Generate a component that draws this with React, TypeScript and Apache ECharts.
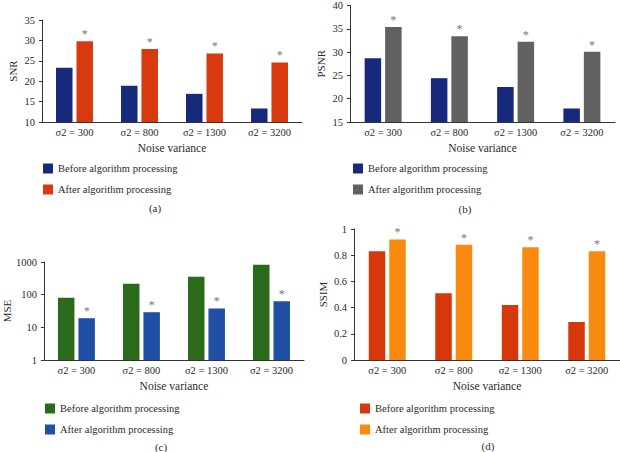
import React, { useEffect, useRef } from "react";
import * as echarts from "echarts";

const categories = ["σ2 = 300", "σ2 = 800", "σ2 = 1300", "σ2 = 3200"];
const seriesNames = ["Before algorithm processing", "After algorithm processing"];
const snrBefore = [23.3, 18.9, 16.9, 13.3];
const snrAfter = [29.8, 27.9, 26.8, 24.6];
const psnrBefore = [28.7, 24.4, 22.5, 17.9];
const psnrAfter = [35.4, 33.4, 32.2, 30.1];
const mseBefore = [81, 217, 356, 828];
const mseAfter = [19, 29, 38, 63];
const ssimBefore = [0.83, 0.51, 0.42, 0.29];
const ssimAfter = [0.92, 0.88, 0.86, 0.83];
const panelLabels = ["(a)", "(b)", "(c)", "(d)"];
const yNames = ["SNR", "PSNR", "MSE", "SSIM"];
const xName = "Noise variance";

const FONT = "'Liberation Serif', 'DejaVu Serif', serif";
const TXT = "#2a2a2a";

export default function App() {
  const ref = useRef<HTMLDivElement>(null);
  useEffect(() => {
    document.body.style.margin = "0";
    const chart = echarts.init(ref.current!, null, { renderer: "svg" });

    const panels = [
      { grid: { left: 42, top: 20, width: 260, height: 102 }, y: { type: "value", min: 10, max: 35, interval: 5 }, nameGap: 24, colors: ["#16297a", "#d8390e"], before: snrBefore, after: snrAfter, legend: { left: 43, top: 163 }, lab: [155, 208] },
      { grid: { left: 350, top: 4, width: 265, height: 118 }, y: { type: "value", min: 15, max: 40, interval: 5 }, nameGap: 24, colors: ["#16297a", "#616161"], before: psnrBefore, after: psnrAfter, legend: { left: 353, top: 163 }, lab: [465, 209] },
      { grid: { left: 42, top: 262, width: 262, height: 98 }, y: { type: "log", logBase: 10, min: 1, max: 1000 }, nameGap: 31, colors: ["#2c6a1b", "#1f50a4"], before: mseBefore, after: mseAfter, legend: { left: 45, top: 403 }, lab: [161, 447] },
      { grid: { left: 354, top: 229, width: 266, height: 131 }, y: { type: "value", min: 0, max: 1, interval: 0.2 }, nameGap: 26, colors: ["#d6380c", "#f98a10"], before: ssimBefore, after: ssimAfter, legend: { left: 360, top: 403 }, lab: [488, 446] },
    ];

    const grid: any[] = [];
    const xAxis: any[] = [];
    const yAxis: any[] = [];
    const series: any[] = [];
    const legend: any[] = [];
    const graphic: any[] = [];

    panels.forEach((p, i) => {
      grid.push({ ...p.grid, containLabel: false });
      xAxis.push({
        type: "category",
        gridIndex: i,
        data: categories,
        name: xName,
        nameLocation: "middle",
        nameGap: 20,
        nameTextStyle: { fontFamily: FONT, fontSize: 11.5, color: TXT },
        axisLine: { lineStyle: { color: "#333", width: 1 } },
        axisTick: { show: false },
        axisLabel: { fontFamily: FONT, fontSize: 10.5, color: TXT, margin: 5 },
      });
      yAxis.push({
        ...p.y,
        gridIndex: i,
        name: yNames[i],
        nameLocation: "middle",
        nameGap: p.nameGap,
        nameTextStyle: { fontFamily: FONT, fontSize: 11, color: TXT },
        axisLine: { show: true, lineStyle: { color: "#333", width: 1 } },
        axisTick: { show: true, length: 3, lineStyle: { color: "#333" } },
        axisLabel: { fontFamily: FONT, fontSize: 10.5, color: TXT, margin: 7, formatter: (v: number) => String(v) },
        splitLine: { show: false },
      });
      series.push({
        type: "bar",
        name: seriesNames[0],
        xAxisIndex: i,
        yAxisIndex: i,
        data: p.before,
        barWidth: 16.5,
        barGap: "24%",
        itemStyle: { color: p.colors[0] },
      });
      series.push({
        type: "bar",
        name: seriesNames[1],
        xAxisIndex: i,
        yAxisIndex: i,
        data: p.after,
        barWidth: 16.5,
        barGap: "24%",
        itemStyle: { color: p.colors[1] },
        label: { show: true, position: "top", distance: 1, formatter: "*", color: "#777777", fontSize: 12, fontFamily: FONT },
      });
      legend.push({
        ...p.legend,
        orient: "vertical",
        padding: 0,
        itemWidth: 10,
        itemHeight: 10,
        itemGap: 10,
        icon: "rect",
        selectedMode: false,
        textStyle: { fontFamily: FONT, fontSize: 10.5, color: TXT },
        data: [
          { name: seriesNames[0], itemStyle: { color: p.colors[0] } },
          { name: seriesNames[1], itemStyle: { color: p.colors[1] } },
        ],
      });
      graphic.push({
        type: "text",
        x: p.lab[0],
        y: p.lab[1],
        style: { text: panelLabels[i], fontFamily: FONT, fontSize: 11, fill: TXT, textAlign: "center", textVerticalAlign: "middle" },
      });
    });

    chart.setOption({
      animation: false,
      backgroundColor: "#ffffff",
      grid,
      xAxis,
      yAxis,
      series,
      legend,
      graphic,
    });
    return () => chart.dispose();
  }, []);
  return <div ref={ref} style={{ width: 620, height: 452 }} />;
}
